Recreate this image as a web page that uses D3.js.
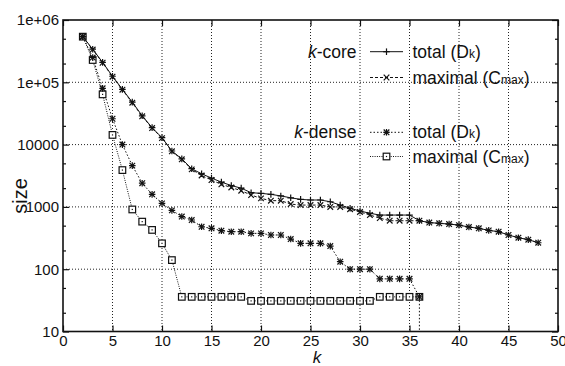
<!DOCTYPE html>
<html><head><meta charset="utf-8">
<script src="https://cdn.jsdelivr.net/npm/d3@7"></script>
<style>
html,body{margin:0;padding:0;background:#fff;}
svg text{font-family:"Liberation Sans",Arial,Helvetica,sans-serif;fill:#111;}
</style></head>
<body><svg id="chart" width="565" height="366"></svg>
<script>
// ---- data ----
const kCoreK = d3.range(2, 49);
const kCoreTotal = [540000,340000,209000,125000,77000,48000,29000,18700,12900,7900,5900,4100,
  3400,2900,2500,2200,2000,1690,1650,1590,1500,1400,1320,1290,1290,1210,1070,950,860,790,
  740,740,740,740,600,560,545,530,510,475,453,420,400,354,320,298,266];
const kCoreMax = [540000,335000,206000,123000,76000,47000,28500,18400,12700,7800,5800,4000,
  3200,2700,2300,2050,1820,1550,1370,1260,1260,1110,1070,1070,1070,1000,1000,920,830,740,
  660,600,600,600,600,560,545,530,510,475,453,420,400,354,320,298,266];
const kDenseK = d3.range(2, 37);
const kDenseTotal = [540000,250000,80000,26000,10000,4600,2400,1590,1140,880,700,616,
  480,453,415,400,400,376,376,354,354,305,260,260,260,235,132,100,100,100,70,70,70,70,36];
const kDenseMax = [540000,228000,64000,14300,3900,910,580,427,260,140,
  36,36,36,36,36,36,36,31,31,31,31,31,31,31,31,31,31,31,31,31,36,36,36,36,36];
// after k=36 the k-dense curves drop to (near) zero
const dropK = [36, 36];
const dropValues = [36, 1];
const xTicks = [0,5,10,15,20,25,30,35,40,45,50];
const yTicks = [10,100,1000,10000,100000,1000000];
const yTickLabels = ["10","100","1000","10000","1e+05","1e+06"];
const yMinorTicks = [20,50,200,500,2000,5000,20000,50000,200000,500000];

// ---- layout ----
const W = 565, H = 366;
const m = {left:63, right:7, top:20, bottom:34.5};
const iw = W - m.left - m.right, ih = H - m.top - m.bottom;
const svg = d3.select("#chart");
const g = svg.append("g").attr("transform", `translate(${m.left},${m.top})`);
const x = d3.scaleLinear().domain([0,50]).range([0, iw]);
const y = d3.scaleLog().domain([10,1e6]).range([ih, 0]);

svg.append("defs").append("clipPath").attr("id","clip")
  .append("rect").attr("width", iw).attr("height", ih);

// grid
const gridColor = "#222";
g.append("g").selectAll("line").data(xTicks.filter(t => t>0 && t<50)).join("line")
  .attr("x1", d=>x(d)).attr("x2", d=>x(d)).attr("y1",0).attr("y2",ih)
  .attr("stroke",gridColor).attr("stroke-width",1).attr("stroke-dasharray","1,2");
g.append("g").selectAll("line").data(yTicks.filter(t => t>10 && t<1e6)).join("line")
  .attr("y1", d=>y(d)).attr("y2", d=>y(d)).attr("x1",0).attr("x2",iw)
  .attr("stroke",gridColor).attr("stroke-width",1).attr("stroke-dasharray","1,2");

// axes
const xAxis = d3.axisBottom(x).tickValues(xTicks).tickSize(-6).tickPadding(4).tickFormat(d3.format("d"));
const xAxisTop = d3.axisTop(x).tickValues(xTicks).tickSize(-6).tickFormat("");
const yAxis = d3.axisLeft(y).tickValues(yTicks).tickSize(-6).tickPadding(4).tickFormat((d,i)=>yTickLabels[i]);
const yAxisR = d3.axisRight(y).tickValues(yTicks).tickSize(-6).tickFormat("");
const yMinor = d3.axisLeft(y).tickValues(yMinorTicks).tickSize(-3).tickFormat("");
const yMinorR = d3.axisRight(y).tickValues(yMinorTicks).tickSize(-3).tickFormat("");

function style(sel){
  sel.attr("font-size", 15);
  sel.select(".domain").remove();
  sel.selectAll(".tick line").attr("stroke","#111").attr("stroke-width",1.2);
  sel.selectAll(".tick text").style("font-size","15px").attr("fill","#111");
}
g.append("g").attr("transform",`translate(0,${ih})`).call(xAxis).call(style);
g.append("g").call(xAxisTop).call(style);
g.append("g").call(yAxis).call(style);
g.append("g").attr("transform",`translate(${iw},0)`).call(yAxisR).call(style);
g.append("g").call(yMinor).call(style);
g.append("g").attr("transform",`translate(${iw},0)`).call(yMinorR).call(style);

// frame
g.append("rect").attr("width",iw).attr("height",ih).attr("fill","none")
  .attr("stroke","#111").attr("stroke-width",1.6);

// series
const series = [
  {k:kCoreK, v:kCoreTotal, dash:null, sym:"plus"},
  {k:kCoreK, v:kCoreMax, dash:"3,2", sym:"cross"},
  {k:kDenseK, v:kDenseTotal, dash:"1.5,2", sym:"star"},
  {k:kDenseK, v:kDenseMax, dash:"1,1.3", sym:"square"}
];
const line = d3.line().x(d=>x(d[0])).y(d=>y(d[1]));
const plot = g.append("g").attr("clip-path","url(#clip)");

function marker(sel, sym, px, py){
  const s = 3.3;
  const gg = sel.append("g").attr("transform",`translate(${px},${py})`)
    .attr("stroke","#111").attr("stroke-width",1.2).attr("fill","none");
  if (sym==="plus" || sym==="star"){
    gg.append("line").attr("x1",-s).attr("x2",s).attr("y1",0).attr("y2",0);
    gg.append("line").attr("x1",0).attr("x2",0).attr("y1",-s).attr("y2",s);
  }
  if (sym==="cross" || sym==="star"){
    const c = s*0.85;
    gg.append("line").attr("x1",-c).attr("x2",c).attr("y1",-c).attr("y2",c);
    gg.append("line").attr("x1",-c).attr("x2",c).attr("y1",c).attr("y2",-c);
  }
  if (sym==="square"){
    gg.append("rect").attr("x",-3.3).attr("y",-3.3).attr("width",6.6).attr("height",6.6)
      .attr("fill","#fff");
    gg.append("rect").attr("x",-0.6).attr("y",-0.6).attr("width",1.2).attr("height",1.2)
      .attr("fill","#111").attr("stroke","none");
  }
}

series.forEach(s => {
  const pts = s.k.map((k,i)=>[k, s.v[i]]);
  plot.append("path").datum(pts).attr("d", line).attr("fill","none")
    .attr("stroke","#111").attr("stroke-width",1)
    .attr("stroke-dasharray", s.dash);
});
// drop line at k=36
plot.append("path").datum(dropK.map((k,i)=>[k, dropValues[i]])).attr("d", line)
  .attr("fill","none").attr("stroke","#111").attr("stroke-width",1).attr("stroke-dasharray","1.5,2");

series.slice().reverse().forEach(s => {
  s.k.forEach((k,i)=> marker(plot, s.sym, x(k), y(s.v[i])));
});

// legend
const leg = svg.append("g");
const rows = [
  {y:51.7, label:"total (D", sub:"k", sym:"plus", dash:null, group:"core"},
  {y:77.5, label:"maximal (C", sub:"max", sym:"cross", dash:"3,2"},
  {y:132.3, label:"total (D", sub:"k", sym:"star", dash:"1.5,2", group:"dense"},
  {y:156.5, label:"maximal (C", sub:"max", sym:"square", dash:"1,1.3"}
];
rows.forEach(r => {
  leg.append("line").attr("x1",370).attr("x2",403).attr("y1",r.y).attr("y2",r.y)
    .attr("stroke","#111").attr("stroke-width",1).attr("stroke-dasharray", r.dash);
  marker(leg, r.sym, 386.5, r.y);
  const t = leg.append("text").attr("x",412.5).attr("y",r.y+6).style("font-size","17.5px");
  t.append("tspan").text(r.label);
  t.append("tspan").text(r.sub).style("font-size","12px");
  t.append("tspan").text(")");
  if (r.group){
    const gt = leg.append("text").attr("x",356.5).attr("y",r.y+6)
      .attr("text-anchor","end").style("font-size","17.5px");
    gt.append("tspan").text("k").style("font-style","italic");
    gt.append("tspan").text(r.group==="core" ? "-core" : "-dense");
  }
});

// axis titles
svg.append("text").attr("x", 317).attr("y", 363).attr("text-anchor","middle")
  .style("font-size","17px").style("font-style","italic").text("k");
svg.append("text").attr("transform","translate(27,196) rotate(-90)")
  .attr("text-anchor","middle").style("font-size","20px").text("size");
</script></body></html>
